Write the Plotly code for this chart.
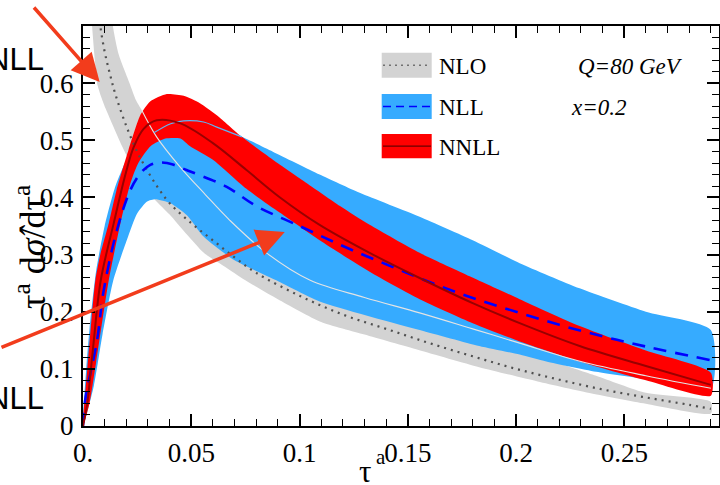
import plotly.graph_objects as go

# ---------------- data ----------------
# NLO (gray band, dotted central)
nlo_tau = [0.0075, 0.008, 0.01, 0.0125, 0.015, 0.02, 0.025, 0.03, 0.035, 0.04, 0.05, 0.06, 0.07, 0.08,
           0.1, 0.12, 0.14, 0.16, 0.18, 0.2, 0.22, 0.24, 0.26, 0.28, 0.29]
nlo_mid = [0.72, 0.70, 0.655, 0.615, 0.58, 0.525, 0.48, 0.445, 0.415, 0.39, 0.355, 0.325, 0.295, 0.268,
           0.228, 0.195, 0.17, 0.145, 0.122, 0.1, 0.081, 0.064, 0.05, 0.037, 0.03]
nlo_lo_tau = [0.0035, 0.0042, 0.0055, 0.0065, 0.0085, 0.0105, 0.0139, 0.018, 0.0225, 0.028, 0.0334, 0.04,
              0.048, 0.0558, 0.065, 0.075, 0.09, 0.11, 0.13, 0.155, 0.183, 0.21, 0.235, 0.26, 0.29]
nlo_lo = [0.76, 0.70, 0.64, 0.60, 0.575, 0.555, 0.525, 0.49, 0.455, 0.42, 0.395, 0.37,
          0.335, 0.303, 0.28, 0.255, 0.222, 0.182, 0.16, 0.133, 0.103, 0.078, 0.057, 0.039, 0.022]
nlo_hi_tau = [0.0125, 0.0138, 0.0165, 0.0215, 0.0245, 0.0271, 0.034, 0.0447, 0.0565, 0.0678, 0.0847,
              0.1047, 0.13, 0.1555, 0.18, 0.2017, 0.23, 0.26, 0.29]
nlo_hi = [0.76, 0.70, 0.65, 0.60, 0.57, 0.553, 0.506, 0.454, 0.405, 0.36, 0.303,
          0.2555, 0.225, 0.198, 0.17, 0.145, 0.113, 0.088, 0.066]
nlo_fill_hi_tau = [0.0125, 0.0138, 0.0165, 0.0215, 0.0245, 0.0271, 0.034, 0.0447, 0.0565, 0.0678, 0.0847,
                   0.1047, 0.13, 0.1555, 0.18, 0.2017, 0.22, 0.237, 0.26, 0.29]
nlo_fill_hi = [0.76, 0.70, 0.65, 0.60, 0.57, 0.553, 0.506, 0.454, 0.405, 0.36, 0.303,
               0.2555, 0.225, 0.198, 0.17, 0.14, 0.11, 0.088, 0.058, 0.042]

# NLL (blue band, dashed central)
nll_hi_tau = [0, 0.0015, 0.003, 0.006, 0.01, 0.015, 0.02, 0.025, 0.0327, 0.0405, 0.0465, 0.0557, 0.0618,
              0.0734, 0.0877, 0.1093, 0.1278, 0.1555, 0.18, 0.2017, 0.2294, 0.26, 0.29]
nll_hi = [0, 0.1, 0.17, 0.27, 0.35, 0.42, 0.465, 0.495, 0.513, 0.529, 0.534, 0.532, 0.523,
          0.506, 0.48, 0.44, 0.408, 0.366, 0.325, 0.285, 0.241, 0.2, 0.168]
nll_mid_tau = [0, 0.001, 0.0065, 0.0096, 0.0157, 0.0219, 0.0265, 0.0311, 0.0363, 0.0419, 0.0478, 0.0525,
               0.0662, 0.08, 0.1, 0.12, 0.14, 0.16, 0.18, 0.2, 0.22, 0.24, 0.26, 0.29]
nll_mid = [0, 0.045, 0.15, 0.238, 0.343, 0.413, 0.442, 0.457, 0.461, 0.457, 0.448, 0.441,
           0.419, 0.385, 0.35, 0.315, 0.283, 0.252, 0.224, 0.2, 0.177, 0.157, 0.139, 0.115]
nll_lo_tau = [0, 0.005, 0.009, 0.014, 0.0203, 0.025, 0.0296, 0.0334, 0.0404, 0.048, 0.0558, 0.07, 0.0893,
              0.1093, 0.1555, 0.183, 0.2017, 0.214, 0.237, 0.26, 0.29]
nll_lo = [0, 0.07, 0.16, 0.255, 0.326, 0.372, 0.393, 0.397, 0.39, 0.369, 0.331, 0.29, 0.255,
          0.218, 0.168, 0.14, 0.125, 0.113, 0.095, 0.082, 0.065]

# NNLL (red band, solid central)
nnll_hi_tau = [0, 0.002, 0.004, 0.0057, 0.008, 0.0119, 0.0155, 0.021, 0.0266, 0.031, 0.0387, 0.0465, 0.054,
               0.0618, 0.0734, 0.0877, 0.1034, 0.1187, 0.1324, 0.1555, 0.1786, 0.2017, 0.2294, 0.26, 0.29]
nnll_hi = [0, 0.1, 0.19, 0.255, 0.30, 0.355, 0.413, 0.483, 0.545, 0.568, 0.581, 0.578, 0.565,
           0.544, 0.506, 0.466, 0.425, 0.385, 0.352, 0.303, 0.262, 0.222, 0.175, 0.132, 0.093]
nnll_mid_tau = [0, 0.002, 0.0034, 0.005, 0.0082, 0.0142, 0.0198, 0.0234, 0.028, 0.034, 0.0447, 0.06, 0.0755,
                0.091, 0.1093, 0.1324, 0.1555, 0.18, 0.2017, 0.2294, 0.26, 0.29]
nnll_mid = [0, 0.04, 0.09, 0.15, 0.255, 0.355, 0.443, 0.488, 0.52, 0.535, 0.53, 0.495, 0.448,
            0.40, 0.352, 0.303, 0.259, 0.215, 0.18, 0.14, 0.105, 0.072]
nnll_lo_tau = [0, 0.003, 0.006, 0.0119, 0.0173, 0.0219, 0.0255, 0.0313, 0.038, 0.045, 0.0493, 0.06, 0.0755,
               0.091, 0.1093, 0.1324, 0.1555, 0.18, 0.2017, 0.2294, 0.26, 0.29]
nnll_lo = [0, 0.04, 0.11, 0.255, 0.355, 0.425, 0.46, 0.49, 0.503, 0.503, 0.49, 0.466, 0.415,
           0.373, 0.325, 0.27, 0.222, 0.18, 0.148, 0.113, 0.08, 0.053]

x_tickvals = [0, 0.05, 0.1, 0.15, 0.2, 0.25]
x_ticktext = ["0.", "0.05", "0.1", "0.15", "0.2", "0.25"]
y_tickvals = [0, 0.1, 0.2, 0.3, 0.4, 0.5, 0.6]
y_ticktext = ["0", "0.1", "0.2", "0.3", "0.4", "0.5", "0.6"]

legend_labels = ["NLO", "NLL", "NNLL"]

# ---------------- styling ----------------
GRAY = "#d3d3d3"
BLUE = "#36abff"
RED = "#ff0000"
DARKRED = "#990000"
SERIF = "Liberation Serif"
SANS = "Liberation Sans"

W, H = 720, 485
L, R, T, B = 83, 1, 26, 59
PW, PH = W - L - R, H - T - B


def px(xp):
    return (xp - L) / PW


def py(yp):
    return (T + PH - yp) / PH


def band(tau_hi, y_hi, tau_lo, y_lo, color):
    return go.Scatter(x=list(tau_hi) + list(tau_lo)[::-1], y=list(y_hi) + list(y_lo)[::-1],
                      fill="toself", fillcolor=color, mode="lines",
                      line=dict(width=0, color=color, shape="spline", smoothing=0.6),
                      hoverinfo="skip", showlegend=False)


fig = go.Figure()
fig.add_trace(band(nlo_fill_hi_tau, nlo_fill_hi, nlo_lo_tau, nlo_lo, GRAY))
fig.add_trace(band(nll_hi_tau, nll_hi, nll_lo_tau, nll_lo, BLUE))
fig.add_trace(band(nnll_hi_tau, nnll_hi, nnll_lo_tau, nnll_lo, RED))

# band edge lines drawn on top
fig.add_trace(go.Scatter(x=nlo_hi_tau[5:], y=nlo_hi[5:], mode="lines", line_shape="spline",
                         line=dict(color="#e4e4e4", width=1.1), showlegend=False, hoverinfo="skip"))
fig.add_trace(go.Scatter(x=nll_hi_tau[8:14], y=nll_hi[8:14], mode="lines", line_shape="spline",
                         line=dict(color="#5fb4f5", width=1.2), showlegend=False, hoverinfo="skip"))

# central lines
fig.add_trace(go.Scatter(x=nlo_tau, y=nlo_mid, mode="lines", line_shape="spline",
                         line=dict(color="#505050", width=2.2, dash="2px,5px"),
                         showlegend=False, hoverinfo="skip"))
fig.add_trace(go.Scatter(x=nll_mid_tau, y=nll_mid, mode="lines", line_shape="spline",
                         line=dict(color="#0000ff", width=2.6, dash="13px,9px"),
                         showlegend=False, hoverinfo="skip"))
fig.add_trace(go.Scatter(x=nnll_mid_tau, y=nnll_mid, mode="lines", line_shape="spline",
                         line=dict(color=DARKRED, width=2), showlegend=False, hoverinfo="skip"))

# ---------------- legend (drawn by hand) ----------------
shapes = []
annotations = []
box_rows = [(52.7, 77.7, GRAY, "#707070", "2px,4px", 1.5),
            (94.0, 119.0, BLUE, "#0000ff", "8px,5px", 1.6),
            (134.0, 158.3, RED, "#6a0000", "solid", 1.2)]
for (y0, y1, fc, lc, dash, lw), lab in zip(box_rows, legend_labels):
    shapes.append(dict(type="rect", xref="paper", yref="paper", x0=px(381.7), x1=px(431.7),
                       y0=py(y1), y1=py(y0), fillcolor=fc, line=dict(width=0), layer="above"))
    ym = (y0 + y1) / 2
    shapes.append(dict(type="line", xref="paper", yref="paper", x0=px(383), x1=px(431),
                       y0=py(ym), y1=py(ym), line=dict(color=lc, width=lw, dash=dash), layer="above"))
    annotations.append(dict(text=lab, xref="paper", yref="paper", x=px(437), y=py(ym + 1),
                            xanchor="left", yanchor="middle", showarrow=False,
                            font=dict(family=SERIF, size=23, color="black")))

annotations.append(dict(text="<i>Q=80 GeV</i>", xref="paper", yref="paper", x=px(576), y=py(66),
                        xanchor="left", yanchor="middle", showarrow=False,
                        font=dict(family=SERIF, size=23, color="black")))
annotations.append(dict(text="<i>x=0.2</i>", xref="paper", yref="paper", x=px(569), y=py(107.5),
                        xanchor="left", yanchor="middle", showarrow=False,
                        font=dict(family=SERIF, size=23, color="black")))

# axis titles
annotations.append(dict(text="τ<sup>a</sup> d<i>σ̂</i>/dτ<sup>a</sup>", xref="paper", yref="paper",
                        x=px(30), y=py(247), textangle=-90, xanchor="center",
                        yanchor="middle", showarrow=False,
                        font=dict(family=SERIF, size=36, color="black")))
# x title: tau with a raised "a"
annotations.append(dict(text="τ", xref="paper", yref="paper", x=px(365), y=py(452),
                        xanchor="center", yanchor="top", showarrow=False,
                        font=dict(family=SERIF, size=31, color="black")))
annotations.append(dict(text="a", xref="paper", yref="paper", x=px(381), y=py(443),
                        xanchor="center", yanchor="top", showarrow=False,
                        font=dict(family=SERIF, size=21, color="black")))

# cropped side labels
annotations.append(dict(text="NLL", xref="paper", yref="paper", x=px(46), y=py(59),
                        xanchor="right", yanchor="middle", showarrow=False,
                        font=dict(family=SANS, size=31, color="black")))
annotations.append(dict(text="NLL", xref="paper", yref="paper", x=px(46), y=py(398),
                        xanchor="right", yanchor="middle", showarrow=False,
                        font=dict(family=SANS, size=31, color="black")))

# red arrows
ARROW = "#f23c1c"
annotations.append(dict(x=0.0077, y=0.602, xref="x", yref="y", ax=-67, ay=-76, text="",
                        showarrow=True, arrowhead=2, arrowsize=1.6, arrowwidth=3.5, arrowcolor=ARROW))
annotations.append(dict(x=0.0932, y=0.3395, xref="x", yref="y", ax=-300, ay=116, text="",
                        showarrow=True, arrowhead=2, arrowsize=1.6, arrowwidth=3.5, arrowcolor=ARROW))

axis_common = dict(showgrid=False, zeroline=False, showline=True, linecolor="black", linewidth=2,
                   mirror="allticks", ticks="inside", ticklen=12, tickwidth=1.6, tickcolor="black",
                   tickfont=dict(family=SERIF, size=27, color="black"))

fig.update_layout(
    width=W, height=H, margin=dict(l=L, r=R, t=T, b=B, autoexpand=False),
    paper_bgcolor="white", plot_bgcolor="white", showlegend=False,
    xaxis=dict(range=[0, PW / 2165.0], tickvals=x_tickvals, ticktext=x_ticktext, ticklabelstandoff=2,
               minor=dict(ticks="inside", ticklen=7, tickwidth=1.3, dtick=0.01, tick0=0,
                          tickcolor="black", showgrid=False),
               **axis_common),
    yaxis=dict(range=[0, 0.7], tickvals=y_tickvals, ticktext=y_ticktext, ticklabelstandoff=2,
               minor=dict(ticks="inside", ticklen=7, tickwidth=1.3, dtick=0.02, tick0=0,
                          tickcolor="black", showgrid=False),
               **axis_common),
    shapes=shapes, annotations=annotations,
)

fig.write_html("out.html")
